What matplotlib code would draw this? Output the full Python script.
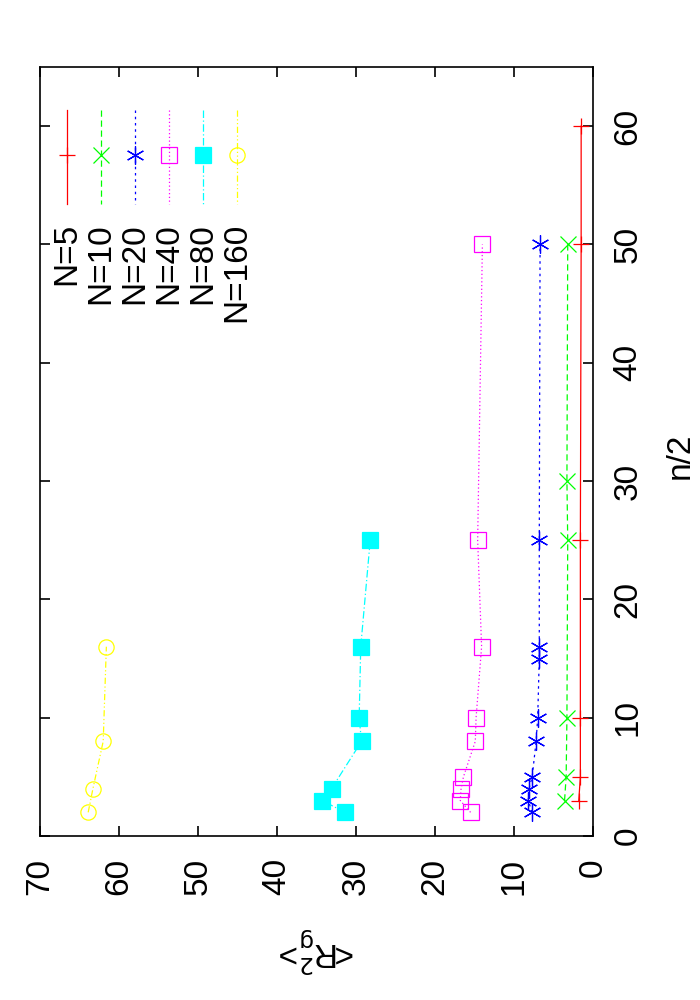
import numpy as np
import matplotlib
matplotlib.use("Agg")
import matplotlib.pyplot as plt

plt.rcParams["font.family"] = "Liberation Sans"

# <R_g^2> versus n/2, one series per chain length N
labels = ["N=5", "N=10", "N=20", "N=40", "N=80", "N=160"]
n5 = [3, 5, 10, 25, 50, 60]
r5 = [1.8, 1.6, 1.6, 1.6, 1.5, 1.5]
n10 = [3, 5, 10, 25, 30, 50]
r10 = [3.6, 3.4, 3.3, 3.2, 3.3, 3.2]
n20 = [2, 3, 4, 5, 8, 10, 15, 16, 25, 50]
r20 = [7.7, 8.2, 8.1, 7.7, 7.2, 7.0, 6.8, 6.8, 6.8, 6.7]
n40 = [2, 3, 4, 5, 8, 10, 16, 25, 50]
r40 = [15.5, 16.8, 16.7, 16.4, 14.9, 14.8, 14.1, 14.6, 14.0]
n80 = [2, 3, 4, 8, 10, 16, 25]
r80 = [31.4, 34.3, 33.1, 29.3, 29.6, 29.4, 28.2]
n160 = [2, 4, 8, 16]
r160 = [63.9, 63.3, 62.0, 61.6]

xs = [n5, n10, n20, n40, n80, n160]
ys = [r5, r10, r20, r40, r80, r160]
colors = ["#ff0000", "#00ff00", "#0000ff", "#ff00ff", "#00ffff", "#ffff00"]
markers = ["+", "x", (6, 2, 0), "s", "s", "o"]
msizes = [11, 11, 13, 11, 11, 11]
filled = [True, True, True, False, True, False]
styles = ["-", (0, (5, 3)), (0, (2, 3)), (0, (1, 2)), (0, (6, 2, 1, 2)), (0, (5, 2, 1, 2, 1, 2))]

W, H = 700, 1000
fig = plt.figure(figsize=(7, 10), dpi=100)
L, R, T, B = 40, 593, 67, 836
ax = fig.add_axes([L / W, 1 - B / H, (R - L) / W, (B - T) / H])

for x, y, c, m, s, f, ls in zip(xs, ys, colors, markers, msizes, filled, styles):
    ax.plot(y, x, color=c, lw=0.9, ls=ls, marker=m, ms=s, mew=0.9,
            mfc=c if f else "none", mec=c)

ax.set_xlim(70, 0)
ax.set_ylim(0, 65)
ax.set_xticks(np.arange(0, 71, 10))
ax.set_yticks(np.arange(0, 61, 10))
ax.yaxis.tick_right()
ax.tick_params(direction="in", length=7, width=1.2, top=True, left=True,
               right=True, bottom=True, labelsize=24)
ax.tick_params(axis="x", pad=16, labelrotation=90)
ax.tick_params(axis="y", pad=14, labelrotation=90)
for lab in ax.get_xticklabels():
    lab.set_va("top")
for lab in ax.get_yticklabels():
    lab.set_ha("left")
    lab.set_va("center")
for s in ax.spines.values():
    s.set_linewidth(1.2)

fig.text(317 / W, 1 - 950 / H, r"<R$^2_{\rm g}$>", rotation=180, fontsize=24,
         ha="center", va="center")
fig.text(680 / W, 1 - 456 / H, "n/2", rotation=90, fontsize=24,
         ha="center", va="center")

# legend drawn as rotated columns
def ax_xy(px, py):
    return (px - L) / (R - L), (B - py) / (B - T)

for i, (lab, c, m, s, f, ls) in enumerate(zip(labels, colors, markers, msizes, filled, styles)):
    px = 67 + 34 * i
    x0, y0 = ax_xy(px, 110)
    _, y1 = ax_xy(px, 204)
    _, ym = ax_xy(px, 155)
    _, yt = ax_xy(px, 223)
    ax.plot([x0, x0], [y0, y1], color=c, lw=0.9, ls=ls, transform=ax.transAxes)
    ax.plot([x0], [ym], color=c, marker=m, ms=s, mew=0.9,
            mfc=c if f else "none", mec=c, transform=ax.transAxes)
    ax.text(x0, yt, lab, rotation=90, fontsize=24, ha="center", va="top",
            transform=ax.transAxes)

fig.savefig("out.png", dpi=100)
